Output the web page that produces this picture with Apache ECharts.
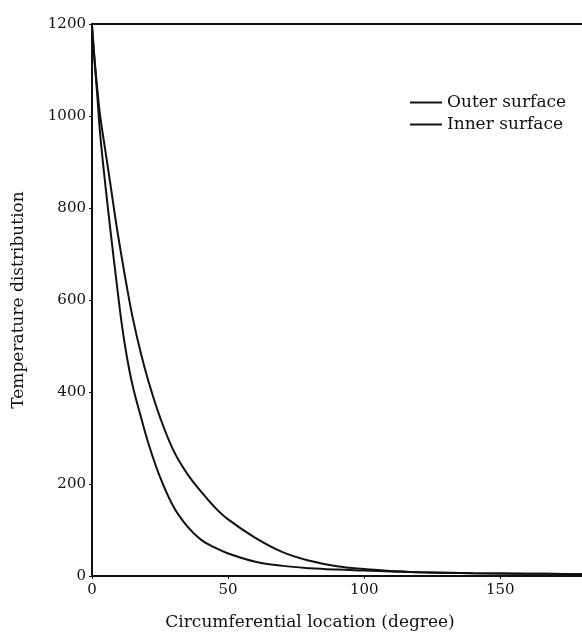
<!DOCTYPE html>
<html>
<head>
<meta charset="utf-8">
<script src="https://cdn.jsdelivr.net/npm/echarts@6/dist/echarts.min.js"></script>
<style>
  html, body { margin: 0; padding: 0; background: #fff; }
  #chart { width: 582px; height: 633px; }
</style>
</head>
<body>
<div id="chart"></div>
<script>
// circumferential location (degree)
const degrees = [0, 1, 2, 3, 5, 7, 9, 11, 13, 15, 18, 21, 25, 30, 35, 40, 45, 50, 60, 70, 80, 90, 100, 110, 120, 140, 160, 180];
// temperature
const outerSurface = [1195, 1120, 1055, 1000, 921, 842, 762, 690, 622, 560, 483, 418, 345, 272, 222, 184, 150, 123, 83, 52, 33, 21, 15, 11, 8, 6, 5, 4];
const innerSurface = [1195, 1115, 1040, 960, 845, 740, 640, 545, 470, 412, 345, 283, 215, 150, 108, 79, 62, 49, 31, 22, 17, 14, 12, 10, 8, 6, 5, 4];
const seriesNames = ['Outer surface', 'Inner surface'];

const FONT = "'DejaVu Serif', 'Liberation Serif', serif";
const INK = '#111';

function pairs(xs, ys) {
  return xs.map((x, i) => [x, ys[i]]);
}

function plain(v) {
  return String(v);
}

// 黑白线稿：两条光滑曲线，左轴+底轴+顶框线
const chart = echarts.init(document.getElementById('chart'));
chart.setOption({
  backgroundColor: '#fff',
  animation: false,
  textStyle: { fontFamily: FONT, color: INK },
  grid: { left: 92, top: 24, right: 0, bottom: 57, outerBoundsMode: 'none' },
  legend: {
    orient: 'vertical',
    left: 405,
    top: 89,
    itemWidth: 32,
    itemHeight: 2,
    itemGap: 5,
    icon: 'rect',
    textStyle: { fontFamily: FONT, fontSize: 17, color: INK },
    data: seriesNames,
  },
  xAxis: [{
    type: 'value',
    min: 0,
    max: 180,
    interval: 50,
    name: 'Circumferential location (degree)',
    nameLocation: 'middle',
    nameGap: 38,
    nameTextStyle: { fontFamily: FONT, fontSize: 17, color: INK, padding: [0, 54, 0, 0] },
    axisLine: { lineStyle: { color: INK, width: 2 } },
    axisTick: { show: true, length: 3, lineStyle: { color: INK } },
    axisLabel: { fontFamily: FONT, fontSize: 15, color: INK, margin: 7, showMaxLabel: false, formatter: plain },
    splitLine: { show: false },
  }, {
    type: 'value',
    position: 'top',
    min: 0,
    max: 180,
    axisLine: { show: true, lineStyle: { color: INK, width: 2 } },
    axisTick: { show: false },
    axisLabel: { show: false },
    splitLine: { show: false },
  }],
  yAxis: {
    type: 'value',
    min: 0,
    max: 1200,
    interval: 200,
    name: 'Temperature distribution',
    nameLocation: 'middle',
    nameGap: 65,
    nameTextStyle: { fontFamily: FONT, fontSize: 17, color: INK },
    axisLine: { show: true, lineStyle: { color: INK, width: 2 } },
    axisTick: { show: true, length: 3, lineStyle: { color: INK } },
    axisLabel: { fontFamily: FONT, fontSize: 15, color: INK, margin: 6, formatter: plain },
    splitLine: { show: false },
  },
  series: [
    {
      name: seriesNames[0],
      type: 'line',
      smooth: 0.4,
      showSymbol: false,
      lineStyle: { color: INK, width: 2 },
      itemStyle: { color: INK },
      data: pairs(degrees, outerSurface),
    },
    {
      name: seriesNames[1],
      type: 'line',
      smooth: 0.4,
      showSymbol: false,
      lineStyle: { color: INK, width: 2 },
      itemStyle: { color: INK },
      data: pairs(degrees, innerSurface),
    },
  ],
});
</script>
</body>
</html>
